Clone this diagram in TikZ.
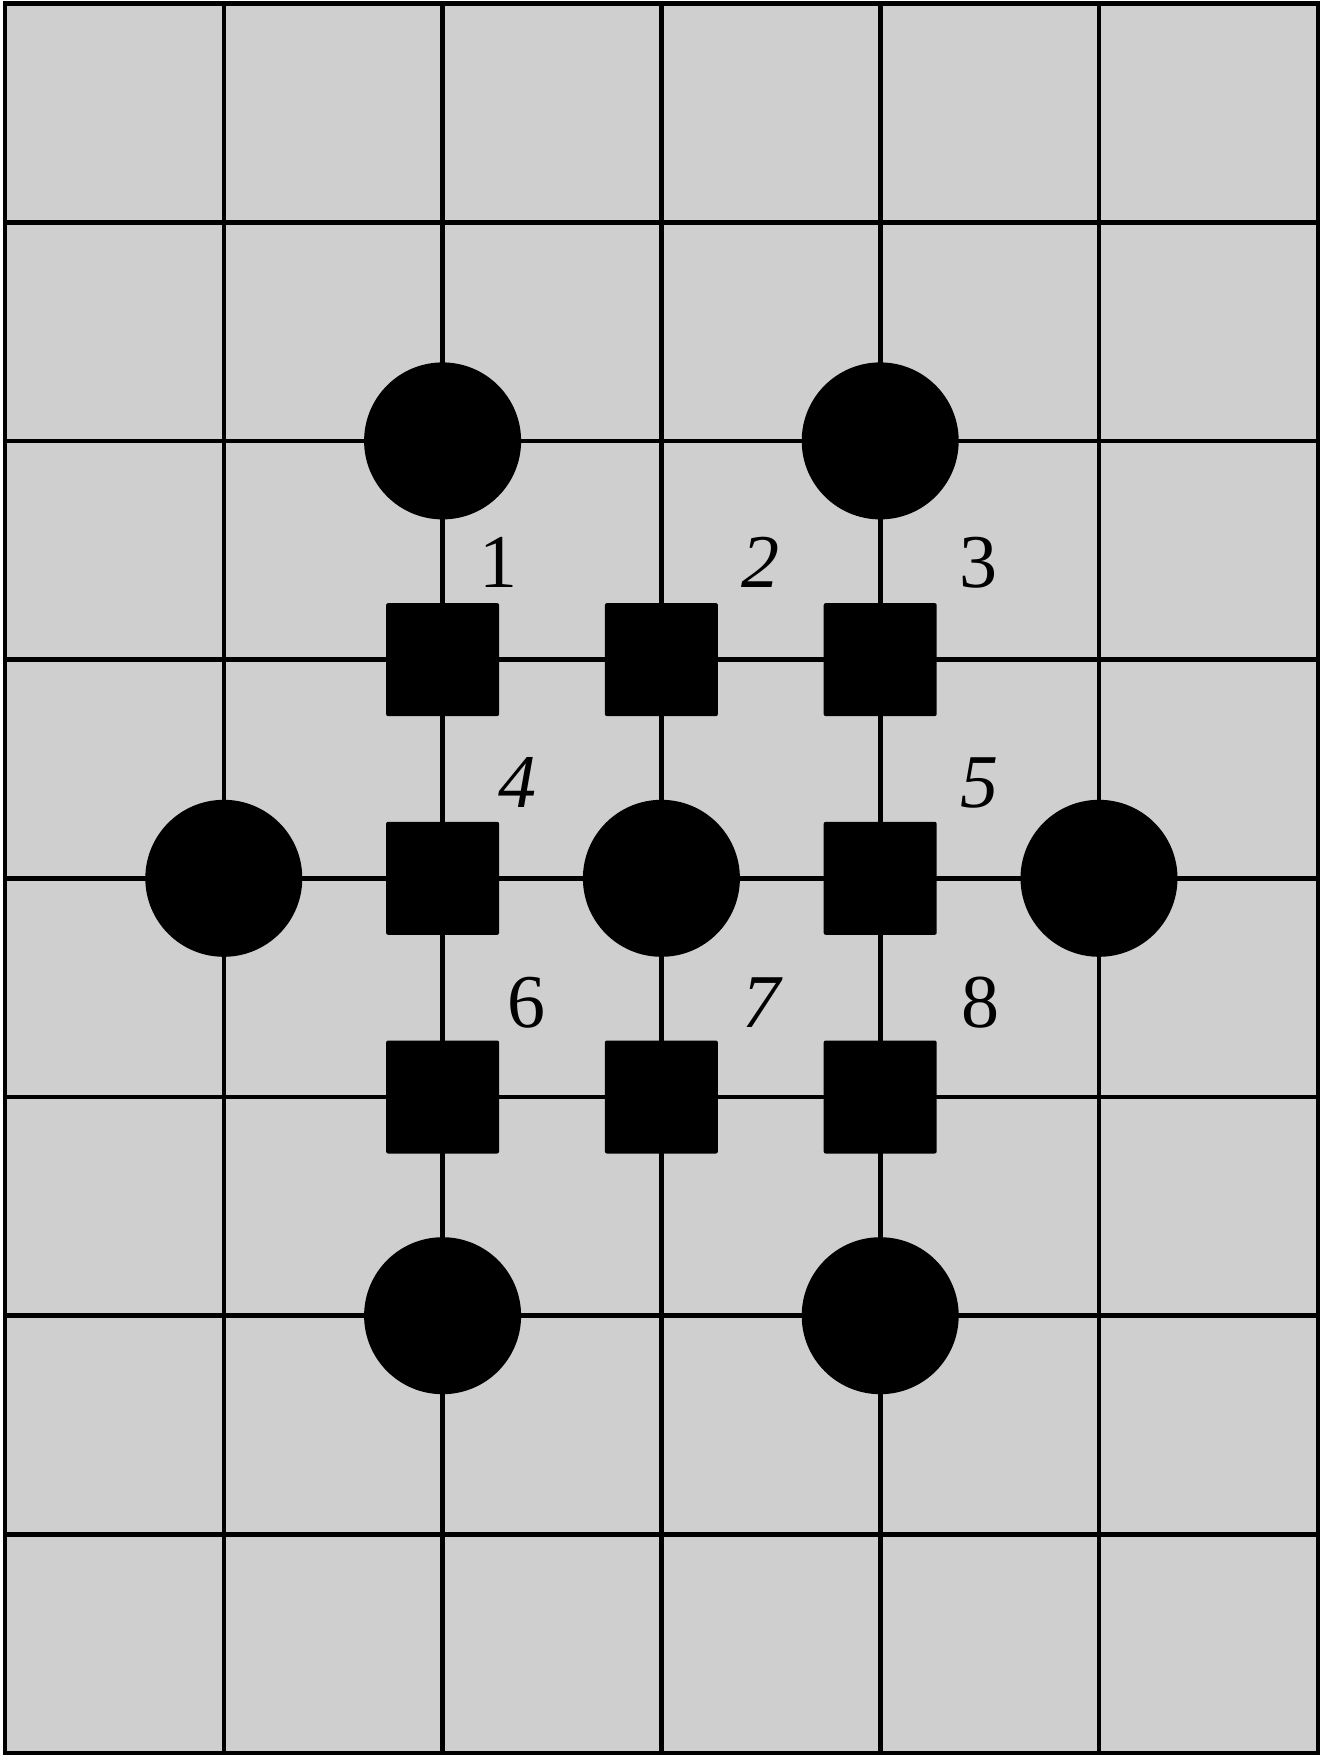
\documentclass[tikz,border=0pt]{standalone}
\usepackage{fontspec}
\newfontfamily\labelfont{Liberation Serif}
\begin{document}
\begin{tikzpicture}[x=1pt,y=-1pt,
  gridline/.style={line width=4.6pt,draw=black},
  stone/.style={circle,fill=black,inner sep=0pt,minimum size=157pt},
  block/.style={rectangle,fill=black,inner sep=0pt,minimum size=113pt,rounded corners=2pt},
  numlabel/.style={anchor=base,inner sep=0pt,font=\labelfont\fontsize{76}{76}\selectfont},
  itlabel/.style={numlabel,font=\labelfont\itshape\fontsize{76}{76}\selectfont}]
\useasboundingbox (0,0) rectangle (1323,1756);
\fill[fill={rgb,255:red,207;green,207;blue,207}] (5,3.5) rectangle (1318,1753);
\foreach \i in {0,...,6} {
  \draw[gridline] ({5+218.8*\i},3.5) -- ({5+218.8*\i},1753);
}
\foreach \j in {0,...,8} {
  \draw[gridline] (5,{3.5+218.7*\j}) -- (1318,{3.5+218.7*\j});
}
\draw[gridline,line cap=rect] (5,3.5) rectangle (1318,1753);
% stones
\node[stone] (c1) at ({5+218.8*2},{3.5+218.7*2}) {};
\node[stone] (c2) at ({5+218.8*4},{3.5+218.7*2}) {};
\node[stone] (c3) at ({5+218.8*1},{3.5+218.7*4}) {};
\node[stone] (c4) at ({5+218.8*3},{3.5+218.7*4}) {};
\node[stone] (c5) at ({5+218.8*5},{3.5+218.7*4}) {};
\node[stone] (c6) at ({5+218.8*2},{3.5+218.7*6}) {};
\node[stone] (c7) at ({5+218.8*4},{3.5+218.7*6}) {};
% blocks
\node[block] (s1) at ({5+218.8*2},{3.5+218.7*3}) {};
\node[block] (s2) at ({5+218.8*3},{3.5+218.7*3}) {};
\node[block] (s3) at ({5+218.8*4},{3.5+218.7*3}) {};
\node[block] (s4) at ({5+218.8*2},{3.5+218.7*4}) {};
\node[block] (s5) at ({5+218.8*4},{3.5+218.7*4}) {};
\node[block] (s6) at ({5+218.8*2},{3.5+218.7*5}) {};
\node[block] (s7) at ({5+218.8*3},{3.5+218.7*5}) {};
\node[block] (s8) at ({5+218.8*4},{3.5+218.7*5}) {};
% labels
\node[numlabel] (l1) at (498,587) {1};
\node[itlabel] (l2) at (760,587) {2};
\node[numlabel] (l3) at (978,587) {3};
\node[itlabel] (l4) at (517,807) {4};
\node[itlabel] (l5) at (979,807) {5};
\node[numlabel] (l6) at (526,1027) {6};
\node[itlabel] (l7) at (761,1027) {7};
\node[numlabel] (l8) at (980,1027) {8};
\end{tikzpicture}
\end{document}
